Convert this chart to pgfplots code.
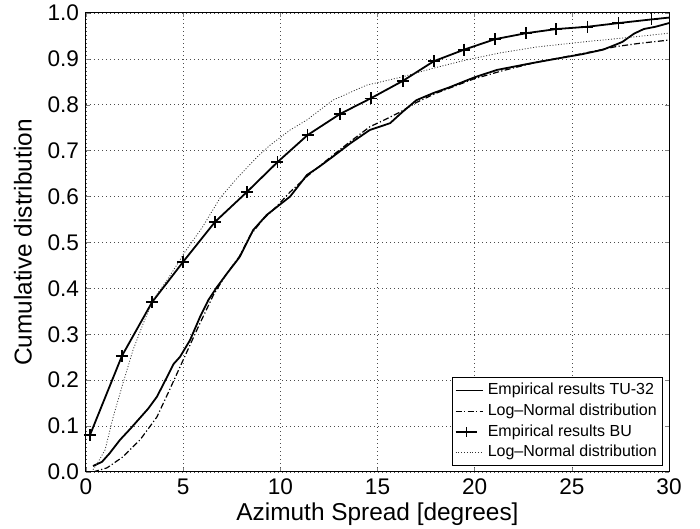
\documentclass[border=0pt]{standalone}
\usepackage{fontspec}
\setmainfont{Liberation Sans}
\usepackage{pgfplots}
\pgfplotsset{compat=1.18}
\usetikzlibrary{calc}

\begin{document}
\begin{tikzpicture}
\begin{axis}[
  name=ax,
  width=291.5pt, height=229.5pt,
  scale only axis,
  xmin=0, xmax=30, ymin=0, ymax=1,
  xtick={0,5,...,30},
  ytick={0,0.1,...,1.0},
  yticklabel style={/pgf/number format/fixed, /pgf/number format/fixed zerofill,
    /pgf/number format/precision=1},
  /pgf/number format/assume math mode=true,
  tick label style={font=\fontsize{11.3}{13}\selectfont},
  label style={font=\fontsize{12.2}{14}\selectfont},
  xlabel={Azimuth Spread [degrees]},
  ylabel={Cumulative distribution},
  xlabel style={yshift=3pt},
  ylabel style={yshift=1pt},
  tick align=inside,
  major tick length=2pt,
  grid=major,
  major grid style={black!70, line width=0.3pt, dash pattern=on 0.4pt off 1.6pt},
  axis line style={line width=0.5pt},
  legend style={at={(rel axis cs:0.99,0.013)}, anchor=south east,
    font=\fontsize{8}{9}\selectfont, draw=black, line width=0.4pt,
    inner sep=1pt, row sep=-1pt, cells={anchor=west}},
  legend cell align=left,
  legend image post style={xscale=0.8},
]
% TU-32 empirical
\addplot[black, line width=0.9pt] coordinates {
  (0.36,0.013)(0.82,0.022)(1.2,0.04)(1.75,0.07)(2.3,0.095)(2.78,0.118)
  (3.2,0.138)(3.65,0.164)(4.17,0.207)(4.5,0.235)(4.84,0.251)(5.35,0.287)
  (5.87,0.338)(6.3,0.375)(6.74,0.403)(7.3,0.435)(7.9,0.468)(8.6,0.527)
  (9.3,0.56)(9.9,0.58)(10.5,0.6)(11.37,0.647)(12.0,0.665)(12.7,0.687)
  (13.6,0.716)(14.6,0.745)(15.65,0.76)(16.3,0.785)(17.0,0.81)(17.9,0.826)
  (18.7,0.838)(20.0,0.86)(21.15,0.876)(22.85,0.89)(24.55,0.903)(25.5,0.91)
  (26.6,0.92)(27.2,0.93)(27.6,0.937)(28.2,0.955)(28.7,0.965)(29.3,0.97)(30,0.978)
};
\addlegendentry{Empirical results TU-32}
% TU-32 log-normal
\addplot[black, line width=0.6pt, dash pattern=on 3pt off 1.2pt on 0.6pt off 1.2pt] coordinates {
  (0.36,0)(1.08,0.009)(1.9,0.033)(2.3,0.05)(2.78,0.07)(3.2,0.094)(3.65,0.12)
  (4.3,0.179)(5.0,0.244)(5.7,0.309)(6.1,0.345)(6.55,0.385)(7.2,0.43)(7.9,0.47)
  (8.44,0.515)(9.1,0.55)(9.8,0.578)(10.5,0.61)(11.4,0.645)(12.7,0.69)(13.6,0.72)
  (14.6,0.752)(15.5,0.77)(16.2,0.785)(17.0,0.805)(18.0,0.825)(20,0.857)
  (21.5,0.875)(23.2,0.893)(25.6,0.912)(27.3,0.927)(28.5,0.934)(30,0.941)
};
\addlegendentry{Log--Normal distribution}
% BU empirical
\addplot[black, line width=0.9pt, mark=+, mark size=3pt, mark options={line width=0.8pt},
  mark indices={1,...,19},
  legend image code/.code={
    \draw[black, line width=0.9pt] (0cm,0cm) -- (0.48cm,0cm);
    \draw[black, line width=0.8pt] (0.24cm,-2.5pt) -- (0.24cm,2.5pt);
  }] coordinates {
  (0.2,0.08)(1.85,0.253)(3.4,0.37)(5.0,0.458)(6.64,0.545)(8.28,0.61)
  (9.85,0.675)(11.4,0.734)(13.07,0.78)(14.65,0.814)(16.3,0.852)(17.9,0.895)
  (19.45,0.92)(21.05,0.943)(22.65,0.956)(24.2,0.965)(25.8,0.97)(27.4,0.978)
  (29.1,0.986)(30,0.99)
};
\addlegendentry{Empirical results BU}
% BU log-normal
\addplot[black!80, line width=0.4pt, dash pattern=on 0.5pt off 0.9pt] coordinates {
  (0.36,0.005)(0.6,0.02)(0.98,0.048)(1.4,0.12)(1.9,0.193)(2.42,0.266)
  (2.95,0.324)(3.45,0.375)(4.17,0.418)(4.84,0.462)(5.0,0.474)(6.0,0.534)
  (6.9,0.597)(7.77,0.64)(8.8,0.686)(9.47,0.712)(10.5,0.745)(11.37,0.767)
  (12.7,0.81)(14.45,0.843)(16.2,0.86)(17.9,0.88)(19.6,0.898)(21.3,0.913)
  (23.2,0.926)(25.6,0.937)(28,0.947)(30,0.956)
};
\addlegendentry{Log--Normal distribution}
\end{axis}
\pgfresetboundingbox
\path ($(ax.south west)+(-43pt,-28.5pt)$) rectangle ($(ax.north east)+(15.5pt,6.5pt)$);
\end{tikzpicture}
\end{document}
